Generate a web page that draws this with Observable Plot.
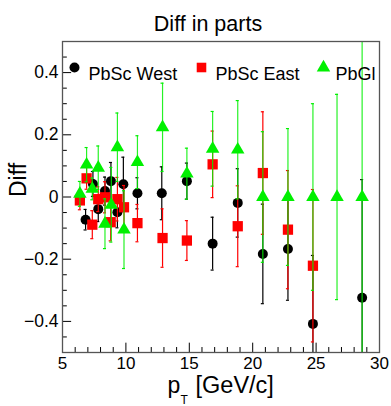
<!DOCTYPE html>
<html><head><meta charset="utf-8">
<script src="https://cdn.jsdelivr.net/npm/d3@7"></script>
<script src="https://cdn.jsdelivr.net/npm/@observablehq/plot@0.6"></script>
<style>
body{margin:0;background:#fff}
svg{font-family:"Liberation Sans",Arial,Helvetica,sans-serif}
</style>
</head><body><div id="chart"></div>
<script>
// ---- data ----
const seriesNames = ["PbSc West", "PbSc East", "PbGl"];
const seriesColors = ["#000000", "#ff0000", "#00f000"];
const seriesSymbols = ["circle", "square", "triangle"];

const westPt   = [6.82, 7.40, 7.82, 8.35, 8.82, 9.33, 9.80, 10.91, 12.83, 14.81, 16.84, 18.82, 20.80, 22.78, 24.75, 28.63];
const westDiff = [-0.073, 0.042, -0.039, 0.019, 0.051, -0.049, 0.041, 0.012, 0.012, 0.051, -0.150, -0.019, -0.183, -0.167, -0.408, -0.324];
const westErr  = [0.033, 0.04, 0.04, 0.045, 0.06, 0.05, 0.087, 0.05, 0.085, 0.058, 0.085, 0.11, 0.16, 0.165, 0.22, 0.38];

const eastPt   = [6.37, 6.90, 7.35, 7.82, 8.35, 8.80, 9.33, 9.85, 10.91, 12.89, 14.81, 16.84, 18.82, 20.80, 22.78, 24.75];
const eastDiff = [-0.011, 0.060, -0.089, -0.007, -0.001, -0.081, -0.007, -0.033, -0.084, -0.132, -0.140, 0.105, -0.094, 0.077, -0.105, -0.221];
const eastErr  = [0.03, 0.035, 0.045, 0.04, 0.05, 0.06, 0.07, 0.07, 0.06, 0.094, 0.064, 0.107, 0.13, 0.197, 0.19, 0.245];

const glPt   = [6.37, 6.90, 7.35, 7.82, 8.35, 8.85, 9.33, 9.85, 10.91, 12.89, 14.81, 16.84, 18.82, 20.80, 22.78, 24.75, 26.65, 28.63];
const glDiff = [0.010, 0.104, 0.026, 0.094, -0.086, -0.025, 0.160, -0.105, 0.112, 0.224, 0.075, 0.155, 0.152, 0, 0, 0, 0, 0];
const glErr  = [0.04, 0.055, 0.035, 0.07, 0.08, 0.12, 0.11, 0.125, 0.085, 0.142, 0.082, 0.12, 0.158, 0.21, 0.22, 0.30, 0.33, 0.8];

const xDomain = [5, 30];
const yDomain = [-0.5, 0.5];
const xTickLabels = [5, 10, 15, 20, 25, 30];
const xMinorTicks = [6,7,8,9,11,12,13,14,16,17,18,19,21,22,23,24,26,27,28,29];
const yTickLabels = [-0.4, -0.2, 0, 0.2, 0.4];
const yMinorTicks = [-0.5,-0.45,-0.35,-0.3,-0.25,-0.15,-0.1,-0.05,0.05,0.1,0.15,0.25,0.3,0.35,0.45,0.5];

const title = "Diff in parts";
const yLabel = "Diff";

// ---- build tables ----
function table(name, pts, diffs, errs) {
  return pts.map((pt, i) => ({series: name, pt, diff: diffs[i], err: errs[i]}));
}
const tables = [
  table(seriesNames[0], westPt, westDiff, westErr),
  table(seriesNames[1], eastPt, eastDiff, eastErr),
  table(seriesNames[2], glPt, glDiff, glErr)
];

const inY = v => v >= yDomain[0] && v <= yDomain[1];
const capHalf = 0.12;
const majorLenX = 0.72, minorLenX = 0.38;   // y-axis tick lengths (x units)
const majorLenY = 0.03, minorLenY = 0.016;  // x-axis tick lengths (y units)

const marks = [];
// axis ticks inside frame
marks.push(Plot.ruleY(yTickLabels, {y: d => d, x1: xDomain[0], x2: xDomain[0] + majorLenX, stroke: "black"}));
marks.push(Plot.ruleY(yMinorTicks, {y: d => d, x1: xDomain[0], x2: xDomain[0] + minorLenX, stroke: "black"}));
marks.push(Plot.ruleX(xTickLabels, {x: d => d, y1: yDomain[0], y2: yDomain[0] + majorLenY, stroke: "black"}));
marks.push(Plot.ruleX(xMinorTicks, {x: d => d, y1: yDomain[0], y2: yDomain[0] + minorLenY, stroke: "black"}));

tables.forEach((t, k) => {
  const c = seriesColors[k];
  marks.push(Plot.ruleX(t, {x: "pt", y1: d => d.diff - d.err, y2: d => d.diff + d.err, stroke: c, strokeWidth: 1.2, strokeOpacity: k === 2 ? 0.85 : 1}));
  const caps = t.flatMap(d => [d.diff - d.err, d.diff + d.err].filter(inY).map(v => ({pt: d.pt, v})));
  marks.push(Plot.ruleY(caps, {y: "v", x1: d => d.pt - capHalf, x2: d => d.pt + capHalf, stroke: c, strokeWidth: 1.2}));
  marks.push(Plot.dot(t, {x: "pt", y: "diff", symbol: seriesSymbols[k], fill: c, stroke: "none",
    r: k === 0 ? 5 : k === 1 ? 5.8 : 5}));
});

// legend
const legendDx = [12, 139, 261];
const legendTextDx = [26, 153, 273];
seriesNames.forEach((name, k) => {
  marks.push(Plot.dot([name], {frameAnchor: "top-left", dx: legendDx[k], dy: 26, symbol: seriesSymbols[k],
    fill: seriesColors[k], stroke: "none", r: k === 0 ? 5 : k === 1 ? 5.4 : 5}));
  marks.push(Plot.text([name], {text: d => d, frameAnchor: "top-left", dx: legendTextDx[k], dy: 26,
    textAnchor: "start", fontSize: 18, fill: "black"}));
});

// tick labels
marks.push(Plot.axisY(yTickLabels, {tickSize: 0, tickPadding: 4, fontSize: 17.5, label: null,
  tickFormat: d => d < 0 ? "\u2212" + Math.abs(d) : String(d)}));
marks.push(Plot.axisX(xTickLabels, {tickSize: 0, tickPadding: 4, fontSize: 17, label: null}));

// titles
marks.push(Plot.text([title], {text: d => d, frameAnchor: "top", dx: -13, dy: -26, fontSize: 21.5, fill: "black"}));
marks.push(Plot.text([yLabel], {text: d => d, frameAnchor: "left", dx: -44, rotate: -90, fontSize: 23, fill: "black"}));
marks.push(Plot.text(["p"], {text: d => d, frameAnchor: "bottom-left", dx: 105, dy: 40, textAnchor: "start", lineAnchor: "bottom", fontSize: 23, fill: "black"}));
marks.push(Plot.text(["T"], {text: d => d, frameAnchor: "bottom-left", dx: 118, dy: 51, textAnchor: "start", lineAnchor: "bottom", fontSize: 12, fill: "black"}));
marks.push(Plot.text(["[GeV/c]"], {text: d => d, frameAnchor: "bottom-left", dx: 133, dy: 40, textAnchor: "start", lineAnchor: "bottom", fontSize: 23.5, fill: "black"}));

marks.push(Plot.frame({stroke: "#555", strokeWidth: 1.3}));

const chart = Plot.plot({
  width: 391,
  height: 406,
  marginLeft: 62,
  marginRight: 12,
  marginTop: 41,
  marginBottom: 54,
  style: {background: "white", color: "black", fontFamily: "'Liberation Sans', Arial, sans-serif"},
  x: {domain: xDomain},
  y: {domain: yDomain, clamp: true},
  marks
});
document.getElementById("chart").appendChild(chart);
</script>
</body></html>
